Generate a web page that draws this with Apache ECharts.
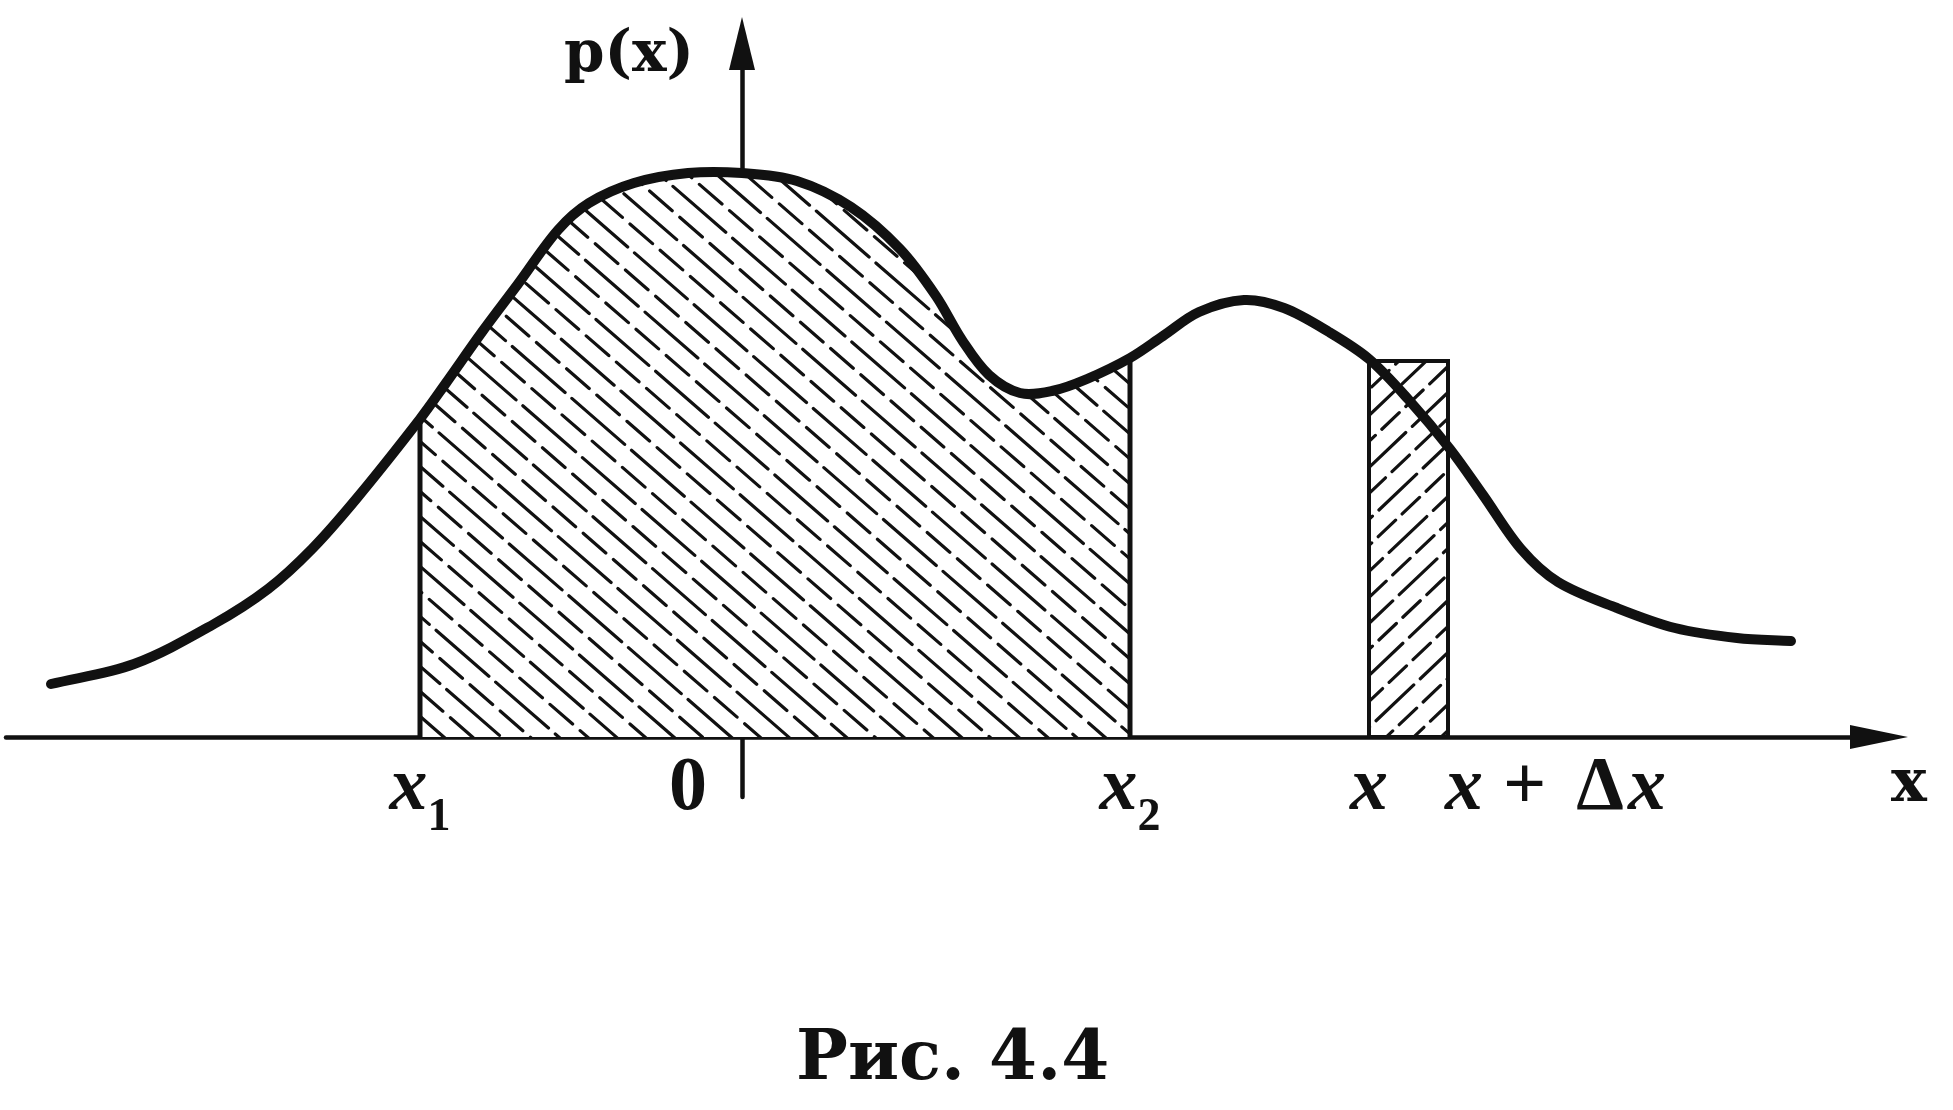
<!DOCTYPE html>
<html><head><meta charset="utf-8">
<script src="https://cdn.jsdelivr.net/npm/echarts@6/dist/echarts.min.js"></script>
<style>html,body{margin:0;padding:0;background:#fff}#c{width:1953px;height:1110px}</style>
</head><body><div id="c"></div>
<script>
// ---- data ----
const curveX = [-6.91, -6.08, -5.28, -4.74, -4.30, -3.85, -3.22, -2.96, -2.60, -2.24, -1.84, -1.53, -1.08, -0.54, 0, 0.55, 1.09, 1.58, 1.94, 2.20, 2.47, 2.78, 3.10, 3.45, 3.88, 4.21, 4.57, 5.02, 5.42, 5.87, 6.27, 6.66, 7.08, 7.41, 7.79, 8.16, 8.75, 9.33, 9.95, 10.49];
const curveY = [0.53, 0.73, 1.13, 1.48, 1.88, 2.39, 3.18, 3.54, 4.05, 4.53, 5.07, 5.34, 5.54, 5.64, 5.64, 5.56, 5.30, 4.88, 4.41, 3.97, 3.62, 3.44, 3.46, 3.58, 3.79, 4.01, 4.25, 4.37, 4.29, 4.05, 3.78, 3.38, 2.88, 2.42, 1.88, 1.55, 1.29, 1.09, 0.99, 0.96];
const shadeFrom = -3.22, shadeTo = 3.88;          // x1, x2
const stripFrom = 6.27, stripTo = 7.06;           // x, x+Δx
const stripHeight = 3.76;                          // p(x)
const xMin = -7.36, xMax = 11.37;
// tick positions and their labels (the last one is a blank end-of-axis stop)
const tickValues = [-3.22, 0, 3.88, 6.27, 7.06, 11.37];
const tickLabels = ['{i|x}{sub|1}', '{zero|0}', '{i|x}{sub|2}', '{i|x}', '{gapL|}{i|x}{op|+}{d|Δ}{i|x}', ' '];
const axisNameX = 'x', axisNameY = 'p(x)';
const caption = 'Рис. 4.4';

// ---- hatch patterns ----
function makeHatch(dir, spacing, slope, dashes, lw) {
  const W = 1953, H = 1110;
  const cv = document.createElement('canvas'); cv.width = W; cv.height = H;
  const ctx = cv.getContext('2d');
  ctx.fillStyle = '#fff'; ctx.fillRect(0, 0, W, H);
  ctx.strokeStyle = '#111'; ctx.lineWidth = lw; ctx.lineCap = 'round';
  const cMin = dir > 0 ? -slope * W : 0, cMax = dir > 0 ? H : H + slope * W;
  let k = 0;
  for (let c = cMin; c <= cMax; c += spacing, k++) {
    ctx.setLineDash(dashes[k % dashes.length]);
    ctx.lineDashOffset = (k * 23) % 60;
    ctx.beginPath();
    ctx.moveTo(0, c); ctx.lineTo(W, c + dir * slope * W);
    ctx.stroke();
  }
  return cv;
}
const hatchMain = makeHatch(1, 25, 0.87, [[70, 9], [30, 10]], 3.2);
const hatchStrip = makeHatch(-1, 26, 0.95, [[52, 9], [24, 9]], 3.2);

const ink = '#111';

// draws the density curve through the read points (pixel positions from the axes' scales)
function renderFigure(params, api) {
  const P = curveX.map((x, i) => api.coord([x, curveY[i]]));
  const n = P.length;
  const T = P.map((p, i) => {
    const a = P[Math.max(i - 1, 0)], b = P[Math.min(i + 1, n - 1)];
    const dx = b[0] - a[0], dy = b[1] - a[1], L = Math.hypot(dx, dy) || 1;
    return [dx / L, dy / L];
  });
  const seg = i => {
    const a = P[i], b = P[i + 1], L = Math.hypot(b[0] - a[0], b[1] - a[1]) / 3;
    return 'C' + (a[0] + T[i][0] * L) + ' ' + (a[1] + T[i][1] * L) + ' ' +
      (b[0] - T[i + 1][0] * L) + ' ' + (b[1] - T[i + 1][1] * L) + ' ' + b[0] + ' ' + b[1];
  };
  let curvePath = 'M' + P[0][0] + ' ' + P[0][1];
  for (let i = 0; i < n - 1; i++) curvePath += seg(i);
  const i1 = curveX.indexOf(shadeFrom), i2 = curveX.indexOf(shadeTo);
  const b1 = api.coord([shadeFrom, 0]), b2 = api.coord([shadeTo, 0]);
  let areaPath = 'M' + b1[0] + ' ' + b1[1] + 'L' + P[i1][0] + ' ' + P[i1][1];
  for (let i = i1; i < i2; i++) areaPath += seg(i);
  areaPath += 'L' + b2[0] + ' ' + b2[1] + 'Z';
  const s0 = api.coord([stripFrom, 0]), s1 = api.coord([stripTo, stripHeight]);
  return {
    type: 'group',
    children: [
      {type: 'path', shape: {pathData: areaPath}, style: {fill: {image: hatchMain, repeat: 'repeat'}, stroke: null}},
      {type: 'line', shape: {x1: b1[0], y1: b1[1], x2: P[i1][0], y2: P[i1][1]}, style: {stroke: ink, lineWidth: 5}},
      {type: 'line', shape: {x1: b2[0], y1: b2[1], x2: P[i2][0], y2: P[i2][1]}, style: {stroke: ink, lineWidth: 5}},
      {type: 'rect', shape: {x: s0[0], y: s1[1], width: s1[0] - s0[0], height: s0[1] - s1[1]},
       style: {fill: {image: hatchStrip, repeat: 'repeat'}, stroke: ink, lineWidth: 4}},
      {type: 'path', shape: {pathData: curvePath},
       style: {fill: null, stroke: ink, lineWidth: 10, lineCap: 'round', lineJoin: 'round'}}
    ]
  };
}

const chart = echarts.init(document.getElementById('c'), null, {renderer: 'canvas'});
chart.setOption({
  animation: false,
  backgroundColor: '#fff',
  title: {
    text: caption, left: 791, top: 1022,
    textStyle: {fontFamily: 'DejaVu Serif', fontWeight: 'bold', fontSize: 69, color: ink}
  },
  grid: {left: 6, right: 74, top: 43.5, bottom: 313},
  xAxis: {
    type: 'value', min: xMin, max: xMax,
    name: axisNameX, nameLocation: 'end', nameGap: 30,
    nameTextStyle: {fontFamily: 'DejaVu Serif', fontWeight: 'bold', fontSize: 60, color: ink,
                    align: 'center', verticalAlign: 'top', padding: [18, 0, 0, 0]},
    axisLine: {show: true, onZero: true, symbol: ['none', 'triangle'], symbolSize: [24, 58],
               lineStyle: {color: ink, width: 4.5}},
    axisTick: {show: false}, splitLine: {show: false},
    axisLabel: {
      customValues: tickValues, margin: -46, hideOverlap: false,
      formatter: v => tickLabels[tickValues.indexOf(v)] || ' ',
      rich: {
        i: {fontFamily: 'Liberation Serif', fontStyle: 'italic', fontWeight: 'bold', fontSize: 76, color: ink, verticalAlign: 'top'},
        sub: {fontFamily: 'Liberation Serif', fontWeight: 'bold', fontSize: 46, color: ink, padding: [44, 0, 0, 0], verticalAlign: 'top'},
        zero: {fontFamily: 'Liberation Serif', fontWeight: 'bold', fontSize: 76, color: ink, padding: [0, 108, 0, 0]},
        op: {fontFamily: 'Liberation Serif', fontWeight: 'bold', fontSize: 76, color: ink, padding: [0, 20, 0, 20], verticalAlign: 'top'},
        d: {fontFamily: 'Liberation Serif', fontWeight: 'bold', fontSize: 76, color: ink, padding: [0, 4, 0, 10], verticalAlign: 'top'},
        gapL: {width: 215}
      }
    }
  },
  yAxis: {
    type: 'value', min: -0.60, max: 6.935,
    name: axisNameY, nameLocation: 'end', nameGap: -12.5,
    nameTextStyle: {fontFamily: 'DejaVu Serif', fontWeight: 'bold', fontSize: 58, color: ink,
                    align: 'right', verticalAlign: 'middle', padding: [0, 48, 0, 0]},
    axisLine: {show: true, onZero: true, symbol: ['none', 'triangle'], symbolSize: [26, 53],
               lineStyle: {color: ink, width: 4.5}},
    axisTick: {show: false}, splitLine: {show: false}, axisLabel: {show: false}
  },
  series: [
    {
      type: 'custom', coordinateSystem: 'cartesian2d', clip: false, z: 3,
      data: [[0, 0]], renderItem: renderFigure, silent: true
    }
  ]
});
</script></body></html>
